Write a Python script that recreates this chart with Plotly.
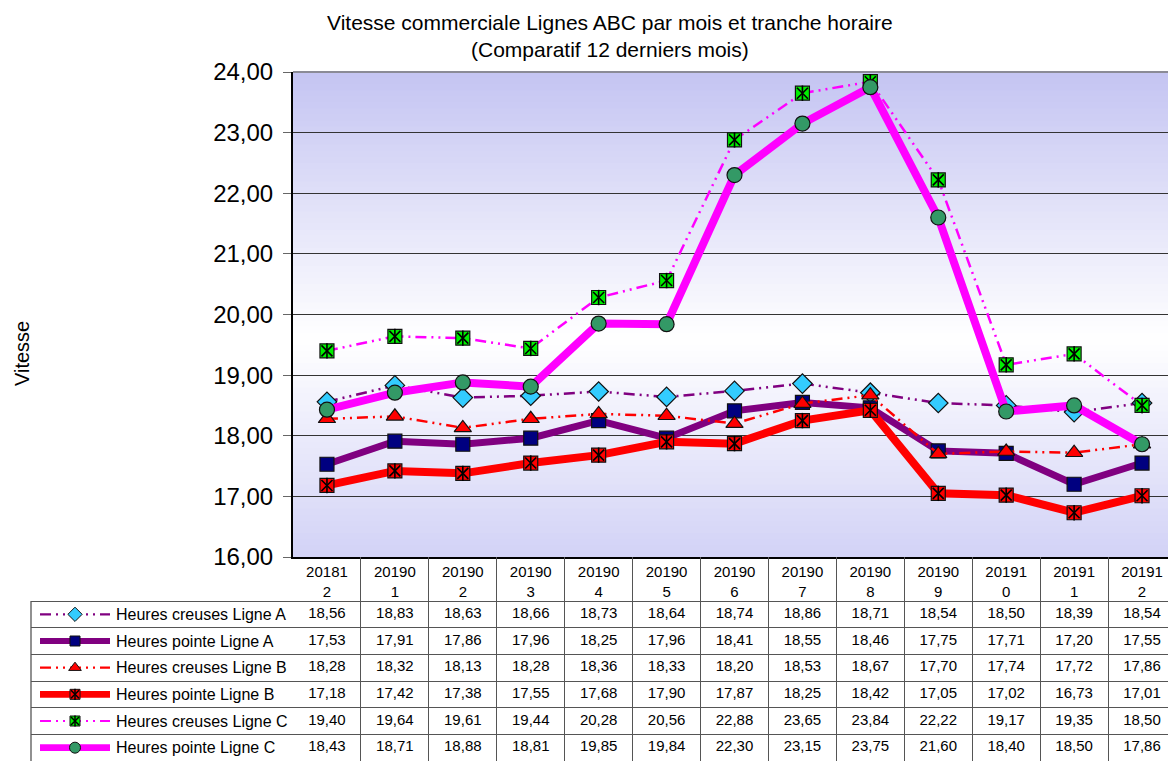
import plotly.graph_objects as go

# ---------------- data ----------------
months = ["201812", "201901", "201902", "201903", "201904", "201905", "201906",
          "201907", "201908", "201909", "201910", "201911", "201912"]
series_names = ["Heures creuses Ligne A", "Heures pointe Ligne A",
                "Heures creuses Ligne B", "Heures pointe Ligne B",
                "Heures creuses Ligne C", "Heures pointe Ligne C"]
hc_a = [18.56, 18.83, 18.63, 18.66, 18.73, 18.64, 18.74, 18.86, 18.71, 18.54, 18.50, 18.39, 18.54]
hp_a = [17.53, 17.91, 17.86, 17.96, 18.25, 17.96, 18.41, 18.55, 18.46, 17.75, 17.71, 17.20, 17.55]
hc_b = [18.28, 18.32, 18.13, 18.28, 18.36, 18.33, 18.20, 18.53, 18.67, 17.70, 17.74, 17.72, 17.86]
hp_b = [17.18, 17.42, 17.38, 17.55, 17.68, 17.90, 17.87, 18.25, 18.42, 17.05, 17.02, 16.73, 17.01]
hc_c = [19.40, 19.64, 19.61, 19.44, 20.28, 20.56, 22.88, 23.65, 23.84, 22.22, 19.17, 19.35, 18.50]
hp_c = [18.43, 18.71, 18.88, 18.81, 19.85, 19.84, 22.30, 23.15, 23.75, 21.60, 18.40, 18.50, 17.86]
series_values = [hc_a, hp_a, hc_b, hp_b, hc_c, hp_c]
y_ticks = [16, 17, 18, 19, 20, 21, 22, 23, 24]

# ---------------- styles / geometry ----------------
# page body has an 8px margin, so the figure is drawn 8px in from the window edge
OFF = 8
W, H = 1176 - OFF, 761 - OFF
FONT = "Liberation Sans, Arial, Helvetica, sans-serif"
DASH = "11px,5px,2px,5px,2px,5px"
styles = [
    dict(color="#800080", width=2.5, dash=DASH, symbol="diamond", mcolor="#33ccff", size=15, star=False),
    dict(color="#800080", width=7, dash="solid", symbol="square", mcolor="#000080", size=14, star=False),
    dict(color="#ff0000", width=2.5, dash=DASH, symbol="triangle-up", mcolor="#ff0000", size=15, star=False),
    dict(color="#ff0000", width=8, dash="solid", symbol="square", mcolor="#ff0000", size=14, star=True),
    dict(color="#ff00ff", width=2.5, dash=DASH, symbol="square", mcolor="#00ee00", size=14, star=True),
    dict(color="#ff00ff", width=8, dash="solid", symbol="circle", mcolor="#339966", size=15, star=False),
]


def px_x(p):
    return (p - OFF) / W


def px_y(p):
    return 1 - (p - OFF) / H


PLOT_L, PLOT_T, PLOT_B = 293, 72, 557
ROWS_T = 601
LEG_L = 31

fmt = lambda v: f"{v:.2f}".replace(".", ",")
wrap = lambda m: m[:5] + "<br>" + m[5:]

fig = go.Figure()

# ---------------- main chart ----------------
for name, vals, st in zip(series_names, series_values, styles):
    fig.add_trace(go.Scatter(
        x=months, y=vals, name=name, mode="lines+markers",
        line=dict(color=st["color"], width=st["width"], dash=st["dash"]),
        marker=dict(symbol=st["symbol"], size=st["size"], color=st["mcolor"],
                    line=dict(color="#111", width=1.2)),
        xaxis="x", yaxis="y", showlegend=False, hoverinfo="skip"))
    if st["star"]:
        for sym in ("x-thin-open", "line-ns-open"):
            fig.add_trace(go.Scatter(
                x=months, y=vals, mode="markers",
                marker=dict(symbol=sym, size=11, color="#000",
                            line=dict(color="#000", width=1.6)),
                xaxis="x", yaxis="y", showlegend=False, hoverinfo="skip"))

# ---------------- data table values ----------------
for row, vals in enumerate(series_values):
    fig.add_trace(go.Scatter(
        x=months, y=[row] * len(months), mode="text",
        text=[fmt(v) for v in vals], textposition="middle center",
        textfont=dict(family=FONT, size=15, color="#000"),
        xaxis="x2", yaxis="y2", showlegend=False, hoverinfo="skip"))

# ---------------- legend keys in table ----------------
for row, (name, st) in enumerate(zip(series_names, styles)):
    fig.add_trace(go.Scatter(
        x=[9, 79], y=[row, row], mode="lines",
        line=dict(color=st["color"], width=st["width"] * 0.85, dash=st["dash"]),
        xaxis="x3", yaxis="y2", showlegend=False, hoverinfo="skip"))
    fig.add_trace(go.Scatter(
        x=[44], y=[row], mode="markers",
        marker=dict(symbol=st["symbol"], size=st["size"] - 4, color=st["mcolor"],
                    line=dict(color="#111", width=1)),
        xaxis="x3", yaxis="y2", showlegend=False, hoverinfo="skip"))
    if st["star"]:
        for sym in ("x-thin-open", "line-ns-open"):
            fig.add_trace(go.Scatter(
                x=[44], y=[row], mode="markers",
                marker=dict(symbol=sym, size=8, color="#000",
                            line=dict(color="#000", width=1.5)),
                xaxis="x3", yaxis="y2", showlegend=False, hoverinfo="skip"))
    fig.add_annotation(x=83, y=row, xref="x3", yref="y2", text=name,
                       showarrow=False, xanchor="left", yanchor="middle",
                       font=dict(family=FONT, size=16, color="#000"))

# ---------------- background gradient ----------------
top_c = (196, 196, 242)
bot_c = (210, 210, 246)
center = 0.45
N = 80
shapes = []
for i in range(N):
    t0, t1 = i / N, (i + 1) / N
    t = (t0 + t1) / 2
    if t >= center:
        f = (t - center) / (1 - center)
        c = top_c
    else:
        f = (center - t) / center
        c = bot_c
    col = tuple(round(255 + (cc - 255) * f) for cc in c)
    shapes.append(dict(type="rect", xref="x domain", yref="y domain",
                       x0=0, x1=1, y0=t0, y1=t1 + 0.002, layer="below",
                       line=dict(width=0), fillcolor=f"rgb{col}"))
# top border
shapes.append(dict(type="line", xref="x domain", yref="y domain", x0=0, x1=1,
                   y0=1, y1=1, line=dict(color="#777", width=1.5)))
# legend column left border
shapes.append(dict(type="line", xref="paper", yref="paper", x0=px_x(LEG_L), x1=px_x(LEG_L),
                   y0=0, y1=px_y(ROWS_T), line=dict(color="#555", width=1.3)))

header_units = (ROWS_T - PLOT_B) / ((761 - ROWS_T) / 6)

fig.update_layout(
    width=W, height=H,
    margin=dict(l=0, r=0, t=0, b=0, pad=0),
    paper_bgcolor="white", plot_bgcolor="rgba(0,0,0,0)",
    separators=", ",
    font=dict(family=FONT, color="#000"),
    shapes=shapes,
    xaxis=dict(domain=[px_x(PLOT_L), 1], type="category", categoryorder="array",
               categoryarray=months, range=[-0.5, len(months) - 0.5],
               tickvals=months, ticktext=[wrap(m) for m in months],
               tickfont=dict(family=FONT, size=15, color="#000"),
               ticks="", showgrid=False, zeroline=False, automargin=False,
               showline=True, linecolor="#000", linewidth=2, anchor="y"),
    yaxis=dict(domain=[px_y(PLOT_B), px_y(PLOT_T)], range=[16, 24],
               tickvals=y_ticks, tickformat=".2f",
               tickfont=dict(family=FONT, size=24, color="#000"),
               ticks="outside", ticklen=8, tickcolor="#666", ticklabelstandoff=5,
               showgrid=True, gridcolor="#333", gridwidth=1, zeroline=False,
               automargin=False,
               showline=True, linecolor="#000", linewidth=2, anchor="x"),
    xaxis2=dict(domain=[px_x(PLOT_L), 1], type="category", categoryorder="array",
                categoryarray=months, range=[-0.5, len(months) - 0.5],
                showticklabels=False, ticks="", tickson="boundaries",
                showgrid=True, gridcolor="#555", gridwidth=1.3, zeroline=False,
                automargin=False, showline=False, anchor="y2"),
    yaxis2=dict(domain=[0, px_y(PLOT_B)], range=[5.5, -0.5 - header_units],
                tickvals=[-0.5, 0.5, 1.5, 2.5, 3.5, 4.5],
                showticklabels=False, ticks="", showgrid=True, gridcolor="#555",
                gridwidth=1.3, zeroline=False, automargin=False,
                showline=False, anchor="x2"),
    xaxis3=dict(domain=[px_x(LEG_L), px_x(PLOT_L)], range=[0, PLOT_L - LEG_L],
                showticklabels=False, ticks="", showgrid=False, zeroline=False,
                automargin=False, showline=False, anchor="y2"),
    annotations=list(fig.layout.annotations) + [
        dict(text="Vitesse commerciale Lignes ABC par mois et tranche horaire<br>(Comparatif 12 derniers mois)",
             x=px_x(610), y=px_y(9), xref="paper", yref="paper", showarrow=False,
             xanchor="center", yanchor="top", align="center",
             font=dict(family=FONT, size=21, color="#000")),
        dict(text="Vitesse", x=px_x(22), y=px_y(354), xref="paper", yref="paper",
             showarrow=False, textangle=-90, xanchor="center", yanchor="middle",
             font=dict(family=FONT, size=20, color="#000")),
    ],
)

fig.write_html("out.html")
